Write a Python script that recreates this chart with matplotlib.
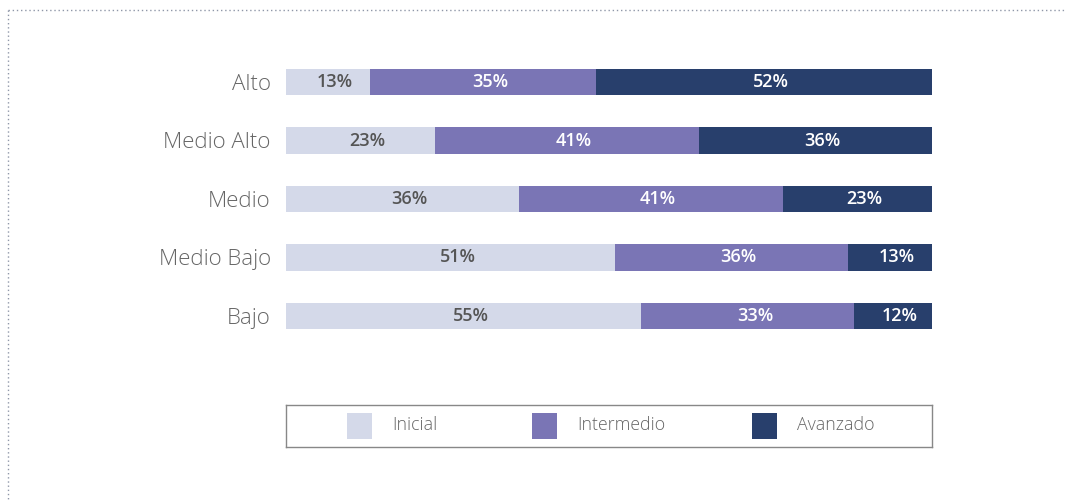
import matplotlib
matplotlib.use("Agg")
import matplotlib.pyplot as plt
from matplotlib.patches import Rectangle
from matplotlib.lines import Line2D
import numpy as np

categories = ["Alto", "Medio Alto", "Medio", "Medio Bajo", "Bajo"]
series_names = ["Inicial", "Intermedio", "Avanzado"]
inicial = [13, 23, 36, 51, 55]
intermedio = [35, 41, 41, 36, 33]
avanzado = [52, 36, 23, 13, 12]

colors = ["#d4d9e9", "#7a75b5", "#283f6c"]
label_colors = ["#555555", "#ffffff", "#ffffff"]

plt.rcParams['font.family'] = ['Open Sans', 'DejaVu Sans']

fig = plt.figure(figsize=(10.66, 5.01), dpi=100)
fig.patch.set_facecolor("white")

W, H = 1066, 501
ax = fig.add_axes([286 / W, 1 - 345.25 / H, 646 / W, 292.5 / H])

y = np.arange(len(categories))
left = np.zeros(len(categories))
for vals, col, lc in zip([inicial, intermedio, avanzado], colors, label_colors):
    vals = np.array(vals, dtype=float)
    bars = ax.barh(y, vals, left=left, height=0.46, color=col, edgecolor="none")
    for b, v in zip(bars, vals):
        ax.annotate(f"{int(v)}%", (b.get_x() + b.get_width() / 2, b.get_y() + b.get_height() / 2),
                    xytext=(5, 0), textcoords="offset points",
                    ha="center", va="center", color=lc,
                    fontsize=13, fontweight="semibold")
    left += vals

ax.set_xlim(0, 100)
ax.set_ylim(len(categories) - 0.5, -0.5)
ax.set_yticks(y)
ax.set_yticklabels(categories, fontsize=16, color="#666666", fontweight="light")
ax.tick_params(axis="y", length=0, pad=11)
ax.set_xticks([])
for s in ax.spines.values():
    s.set_visible(False)

# Legend box
lax = fig.add_axes([286 / W, 1 - 447 / H, 646 / W, 42 / H])
lax.set_xlim(286, 932)
lax.set_ylim(447, 405)
lax.set_xticks([])
lax.set_yticks([])
for s in lax.spines.values():
    s.set_color("#888888")
    s.set_linewidth(1.0)
sq_x = [347, 532, 752]
for xs, name, col in zip(sq_x, series_names, colors):
    lax.add_patch(Rectangle((xs, 413), 25, 26, facecolor=col, edgecolor="none"))
    lax.text(xs + 45, 425, name, ha="left", va="center", fontsize=12.8,
             color="#666666", fontweight="light")

# dotted frame
fig.add_artist(Line2D([8 / W, 1.0], [1 - 10 / H, 1 - 10 / H], transform=fig.transFigure,
                      color="#8f97a8", linestyle=(0, (1, 2)), linewidth=1.0))
fig.add_artist(Line2D([8 / W, 8 / W], [1 - 10 / H, 0.0], transform=fig.transFigure,
                      color="#8f97a8", linestyle=(0, (1, 2)), linewidth=1.0))

fig.savefig("out.png", dpi=100, facecolor="white")
